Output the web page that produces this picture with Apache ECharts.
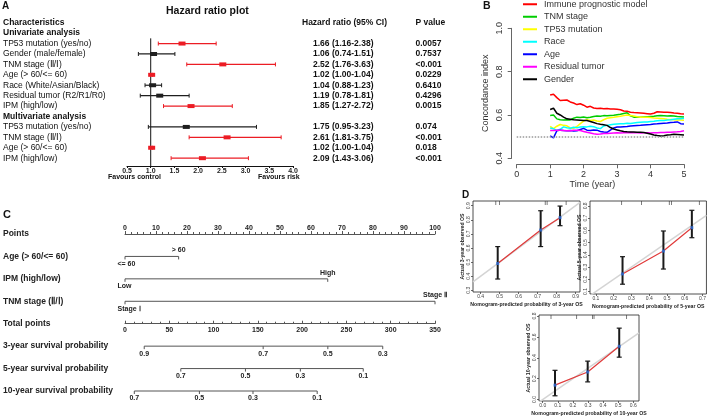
<!DOCTYPE html>
<html><head><meta charset="utf-8">
<script src="https://cdn.jsdelivr.net/npm/echarts@6/dist/echarts.min.js"></script>
<style>html,body{margin:0;padding:0;background:#fff}#c{width:709px;height:417px}</style>
</head><body><div id="c"></div>
<script>
const FONT = '"Liberation Sans", Arial, sans-serif';

// ---------- Panel A: forest plot ----------
const rowLabels = ['Characteristics','Univariate analysis','TP53 mutation (yes/no)','Gender (male/female)','TNM stage (Ⅱ/Ⅰ)','Age (> 60/<= 60)','Race (White/Asian/Black)','Residual tumor (R2/R1/R0)','IPM (high/low)','Multivariate analysis','TP53 mutation (yes/no)','TNM stage (Ⅱ/Ⅰ)','Age (> 60/<= 60)','IPM (high/low)'];
const headerRows = [0,1,9];
const hrVal = [null,null,1.66,1.06,2.52,1.02,1.04,1.19,1.85,null,1.75,2.61,1.02,2.09];
const hrLo  = [null,null,1.16,0.74,1.76,1.00,0.88,0.78,1.27,null,0.95,1.81,1.00,1.43];
const hrHi  = [null,null,2.38,1.51,3.63,1.04,1.23,1.81,2.72,null,3.23,3.75,1.04,3.06];
const pText = ['P value','','0.0057','0.7537','<0.001','0.0229','0.6410','0.4296','0.0015','','0.074','<0.001','0.018','<0.001'];

// ---------- Panel B: C-index over time ----------
const times = [1.0,1.1,1.2,1.3,1.4,1.5,1.6,1.7,1.8,1.9,2.0,2.1,2.2,2.3,2.4,2.5,2.6,2.7,2.8,2.9,3.0,3.1,3.2,3.3,3.4,3.5,3.6,3.7,3.8,3.9,4.0,4.1,4.2,4.3,4.4,4.5,4.6,4.7,4.8,4.9,5.0];
const cNames = ['Immune prognostic model','TNM stage','TP53 mutation','Race','Age','Residual tumor','Gender'];
const cColors = ['#ff0000','#00cd00','#ffff00','#00ffff','#0000ff','#ff00ff','#000000'];
const cIPM = [0.692,0.696,0.680,0.667,0.668,0.669,0.660,0.655,0.648,0.652,0.645,0.636,0.640,0.632,0.630,0.631,0.629,0.630,0.628,0.628,0.626,0.624,0.618,0.617,0.613,0.611,0.610,0.609,0.608,0.606,0.604,0.608,0.615,0.614,0.613,0.612,0.611,0.609,0.608,0.606,0.605];
const cTNM = [0.598,0.600,0.582,0.578,0.577,0.578,0.577,0.585,0.590,0.588,0.591,0.587,0.589,0.593,0.595,0.594,0.597,0.596,0.598,0.599,0.601,0.603,0.607,0.610,0.596,0.590,0.589,0.590,0.591,0.592,0.593,0.594,0.596,0.597,0.596,0.595,0.596,0.595,0.593,0.592,0.591];
const cTP53 = [0.547,0.537,0.548,0.556,0.552,0.550,0.540,0.538,0.547,0.560,0.572,0.578,0.575,0.577,0.572,0.570,0.578,0.585,0.587,0.589,0.592,0.594,0.597,0.600,0.598,0.595,0.592,0.590,0.590,0.589,0.588,0.586,0.585,0.584,0.582,0.580,0.579,0.578,0.577,0.577,0.576];
const cRace = [0.540,0.536,0.530,0.534,0.545,0.541,0.539,0.543,0.541,0.544,0.546,0.545,0.548,0.546,0.540,0.537,0.549,0.552,0.555,0.557,0.558,0.559,0.560,0.562,0.561,0.563,0.565,0.566,0.567,0.568,0.570,0.571,0.573,0.574,0.575,0.577,0.578,0.580,0.582,0.583,0.585];
const cAge = [0.504,0.494,0.527,0.530,0.528,0.527,0.528,0.526,0.527,0.533,0.538,0.530,0.528,0.531,0.530,0.524,0.521,0.520,0.530,0.540,0.544,0.545,0.546,0.547,0.549,0.550,0.551,0.552,0.554,0.555,0.556,0.558,0.559,0.561,0.562,0.563,0.565,0.566,0.568,0.560,0.558];
const cResid = [0.528,0.528,0.530,0.529,0.528,0.527,0.527,0.529,0.530,0.528,0.524,0.520,0.517,0.513,0.511,0.512,0.514,0.515,0.516,0.517,0.518,0.517,0.518,0.518,0.519,0.518,0.518,0.517,0.518,0.518,0.517,0.518,0.518,0.519,0.519,0.520,0.520,0.521,0.522,0.524,0.527];
const cGender = [0.625,0.631,0.608,0.600,0.590,0.582,0.580,0.578,0.577,0.576,0.575,0.574,0.570,0.565,0.560,0.557,0.555,0.552,0.542,0.535,0.531,0.527,0.524,0.522,0.521,0.521,0.520,0.520,0.519,0.516,0.512,0.508,0.505,0.503,0.504,0.508,0.509,0.511,0.510,0.509,0.508];
const cSeries = [cIPM,cTNM,cTP53,cRace,cAge,cResid,cGender];
const cRef = 0.5;

// ---------- Panel C: nomogram ----------
const nomoRows = ['Points','Age (> 60/<= 60)','IPM (high/low)','TNM stage (Ⅱ/Ⅰ)','Total points','3-year survival probability','5-year survival probability','10-year survival probability'];
const ageLevels = ['<= 60','> 60'];      const agePoints = [0, 17.3];
const ipmLevels = ['Low','High'];        const ipmPoints = [0, 65.4];
const tnmLevels = ['Stage Ⅰ','Stage Ⅱ']; const tnmPoints = [0, 100];
const surv3Labels = ['0.9','0.7','0.5','0.3'];  const surv3Total = [21.7,156,229,291];
const surv5Labels = ['0.7','0.5','0.3','0.1'];  const surv5Total = [63,136,198,269];
const surv10Labels = ['0.7','0.5','0.3','0.1']; const surv10Total = [10.5,84,144.5,217];

// ---------- Panel D: calibration ----------
const cal3Pred = [0.49,0.716,0.818], cal3Obs = [0.49,0.727,0.815], cal3Lo = [0.38,0.61,0.758], cal3Hi = [0.61,0.864,0.897];
const cal5Pred = [0.25,0.48,0.64],   cal5Obs = [0.244,0.431,0.622], cal5Lo = [0.16,0.284,0.54], cal5Hi = [0.385,0.595,0.764];
const cal10Pred = [0.0815,0.298,0.507], cal10Obs = [0.138,0.264,0.51], cal10Lo = [0.036,0.169,0.406], cal10Hi = [0.28,0.368,0.684];
const rug3 = [0.48,0.50,0.74,0.75,0.85];
const rug5 = [0.245,0.357,0.513,0.525,0.682];
const rug10 = [0.055,0.225,0.33,0.34,0.556];
const d1Ticks = {x:[0.4,0.5,0.6,0.7,0.8,0.9], y:[0.3,0.4,0.5,0.6,0.7,0.8,0.9]};
const d2Ticks = {x:[0.1,0.2,0.3,0.4,0.5,0.6,0.7], y:[0.1,0.2,0.3,0.4,0.5,0.6,0.7,0.8]};
const d3Ticks = {x:[0.0,0.1,0.2,0.3,0.4,0.5,0.6], y:[0.0,0.2,0.4,0.6,0.8]};

// ================= layout =================
const RED = '#ec1c24', DARK = '#1e1e1e';
const forestYMin = -0.5, forestYMax = 13.75;
const nomoTop = 234, nomoBottom = 391, nomoN = 7;
const rowPx = (nomoBottom - nomoTop) / nomoN;

function pNum(s){ return s.startsWith('<') ? parseFloat(s.slice(1)) * 0.9 : parseFloat(s); }

const forestData = [];
hrVal.forEach((v,i)=>{ if(v!=null) forestData.push([hrLo[i], hrHi[i], v, i, pNum(pText[i]) < 0.05 ? 1 : 0]); });
const firstDataRow = hrVal.findIndex(v=>v!=null);

function forestItem(params, api){
  const lo = api.value(0), hi = api.value(1), hr = api.value(2), row = api.value(3), sig = api.value(4);
  const a = api.coord([lo,row]), b = api.coord([hi,row]), c = api.coord([hr,row]);
  const col = sig ? RED : DARK, y = c[1];
  return {type:'group', children:[
    {type:'line', shape:{x1:a[0],y1:y,x2:b[0],y2:y}, style:{stroke:col,lineWidth:1.2}},
    {type:'line', shape:{x1:a[0],y1:y-2,x2:a[0],y2:y+2}, style:{stroke:col,lineWidth:1}},
    {type:'line', shape:{x1:b[0],y1:y-2,x2:b[0],y2:y+2}, style:{stroke:col,lineWidth:1}},
    {type:'rect', shape:{x:c[0]-3.5,y:y-2,width:7,height:4}, style:{fill:col}}
  ]};
}

function nomoRow(vals, labels, row, xIdx, sides, firstLeft){
  const last = vals.length - 1;
  return {type:'custom', xAxisIndex:xIdx, yAxisIndex:4, silent:true, data: vals.map(v=>[v,row]), encode:{x:0,y:1},
    renderItem:(params, api)=>{
      const i = params.dataIndex;
      const p = api.coord([api.value(0), api.value(1)]);
      const ch = [];
      if(i===0){ const q = api.coord([vals[last], row]); ch.push({type:'line', shape:{x1:p[0],y1:p[1],x2:q[0],y2:q[1]}, style:{stroke:'#555',lineWidth:1}}); }
      ch.push({type:'line', shape:{x1:p[0],y1:p[1],x2:p[0],y2:p[1]+3}, style:{stroke:'#555',lineWidth:1}});
      const left = firstLeft && i===0;
      ch.push({type:'text', x: left ? p[0]-7.5 : p[0], y: sides[i]==='top' ? p[1]-6 : p[1]+7.5,
        style:{text:labels[i], fill:'#222', font:'bold 7px '+FONT, align:left?'left':'center', verticalAlign:'middle'}});
      return {type:'group', children:ch};
    }};
}

function errItem(params, api){
  const top = api.coord([api.value(0), api.value(2)]), bot = api.coord([api.value(0), api.value(1)]);
  const x = top[0];
  return {type:'group', children:[
    {type:'line', shape:{x1:x,y1:top[1],x2:x,y2:bot[1]}, style:{stroke:'#1a1a1a',lineWidth:2}},
    {type:'line', shape:{x1:x-2.5,y1:top[1],x2:x+2.5,y2:top[1]}, style:{stroke:'#1a1a1a',lineWidth:1.2}},
    {type:'line', shape:{x1:x-2.5,y1:bot[1],x2:x+2.5,y2:bot[1]}, style:{stroke:'#1a1a1a',lineWidth:1.2}}
  ]};
}

const dRanges = [
  {x:[0.36,0.923], y:[0.288,0.933]},
  {x:[0.067,0.722], y:[0.08,0.84]},
  {x:[-0.0245,0.638], y:[-0.014,0.81]}
];
const dTicks = [d1Ticks, d2Ticks, d3Ticks];
const dNames = [['Nomogram-predicted probability of 3-year OS','Actual 3-year observed OS'],
                ['Nomogram-predicted probability of 5-year OS','Actual 5-year observed OS'],
                ['Nomogram-predicted probability of 10-year OS','Actual 10-year observed OS']];
const dCal = [[cal3Pred,cal3Obs,cal3Lo,cal3Hi,rug3],[cal5Pred,cal5Obs,cal5Lo,cal5Hi,rug5],[cal10Pred,cal10Obs,cal10Lo,cal10Hi,rug10]];

const noSplit = {show:false};
const dX = dRanges.map((r,k)=>({gridIndex:3+k, type:'value', min:r.x[0], max:r.x[1],
  axisLine:{show:false, onZero:false}, splitLine:noSplit,
  axisTick:{show:true, customValues:dTicks[k].x, length:2, lineStyle:{color:'#444',width:0.8}},
  axisLabel:{customValues:dTicks[k].x, fontSize:5, color:'#444', margin:2, formatter:v=>v.toFixed(1)},
  name:dNames[k][0], nameLocation:'middle', nameGap:10, nameTextStyle:{fontSize:5.2, fontWeight:'bold', color:'#222'}}));
const dY = dRanges.map((r,k)=>({gridIndex:3+k, type:'value', min:r.y[0], max:r.y[1],
  axisLine:{show:false, onZero:false}, splitLine:noSplit,
  axisTick:{show:true, customValues:dTicks[k].y, length:2, lineStyle:{color:'#444',width:0.8}},
  axisLabel:{customValues:dTicks[k].y, fontSize:5, color:'#444', margin:2, rotate:90, formatter:v=>v.toFixed(1)},
  name:dNames[k][1], nameLocation:'middle', nameGap:8, nameRotate:90, nameTextStyle:{fontSize:5.2, fontWeight:'bold', color:'#222'}}));

const dSeries = [];
dCal.forEach((c,k)=>{
  const xi = 4+k, yi = 5+k, r = dRanges[k];
  dSeries.push({type:'line', xAxisIndex:xi, yAxisIndex:yi, silent:true, symbol:'none', z:1,
    data:[[r.x[0],r.x[0]],[r.x[1],r.x[1]]], lineStyle:{color:'#d4d4d4',width:1.5}});
  dSeries.push({type:'line', xAxisIndex:xi, yAxisIndex:yi, silent:true, symbol:'none', z:2,
    data:c[0].map((p,j)=>[p,c[1][j]]), lineStyle:{color:'#e03a3a',width:1.2}});
  dSeries.push({type:'custom', xAxisIndex:xi, yAxisIndex:yi, silent:true, z:3,
    data:c[0].map((p,j)=>[p,c[2][j],c[3][j]]), encode:{x:0,y:[1,2]}, renderItem:errItem});
  dSeries.push({type:'scatter', xAxisIndex:xi, yAxisIndex:yi, silent:true, z:4, symbol:'rect', symbolSize:3,
    data:c[0].map((p,j)=>[p,c[1][j]]), itemStyle:{color:'#2f6fdc'}});
  dSeries.push({type:'scatter', xAxisIndex:xi, yAxisIndex:yi, silent:true, z:4, symbol:'rect', symbolSize:[0.8,4], symbolOffset:[0,2],
    data:c[4].map(p=>[p, r.y[1]]), itemStyle:{color:'#333'}});
});

const tStyle = (size, bold)=>({fontSize:size, fontWeight:bold?'bold':'normal', color:'#111', fontFamily:FONT});

const option = {
  animation:false,
  textStyle:{fontFamily:FONT},
  title:[
    {text:'A', left:2, top:1, padding:0, textStyle:tStyle(10,true)},
    {text:'Hazard ratio plot', left:166, top:6, padding:0, textStyle:tStyle(10.5,true)},
    {text:'Favours control', left:108, top:174, padding:0, textStyle:tStyle(7,true)},
    {text:'Favours risk', left:258, top:174, padding:0, textStyle:tStyle(7,true)},
    {text:'B', left:483, top:1, padding:0, textStyle:tStyle(10.5,true)},
    {text:'C', left:3, top:209, padding:0, textStyle:tStyle(11,true)},
    {text:'D', left:462, top:190, padding:0, textStyle:tStyle(10,true)}
  ],
  legend:{data:cNames, orient:'vertical', left:523, top:-2, padding:0, itemGap:0, icon:'rect', itemWidth:14, itemHeight:2,
    textStyle:{fontSize:9, color:'#333', lineHeight:12.5, padding:[0,0,0,2]}},
  grid:[
    {left:126, right:416, top:17.5, bottom:251},
    {left:516.7, right:25, top:28.3, bottom:258.7},
    {left:124, right:274, top:nomoTop, bottom:417-nomoBottom},
    {left:473, top:201, width:107, height:91, show:true, borderColor:'#222', borderWidth:0.8},
    {left:590, top:201, width:119, height:93, show:true, borderColor:'#222', borderWidth:0.8},
    {left:539, top:315, width:100, height:87, show:true, borderColor:'#222', borderWidth:0.8}
  ],
  xAxis:[
    {gridIndex:0, type:'value', min:0.5, max:4.0, interval:0.5, splitLine:noSplit,
      axisLine:{show:true, onZero:false, lineStyle:{color:'#111',width:1}}, axisTick:{show:true,length:2,lineStyle:{color:'#111'}},
      axisLabel:{fontSize:7, fontWeight:'bold', color:'#222', margin:1.5, formatter:v=>v.toFixed(1)}},
    {gridIndex:1, type:'value', min:0, max:5, interval:1, offset:6, splitLine:noSplit,
      axisLine:{show:true, onZero:false, lineStyle:{color:'#666'}}, axisTick:{show:true,length:4,lineStyle:{color:'#666'}},
      axisLabel:{fontSize:9, color:'#333', margin:6},
      name:'Time (year)', nameLocation:'middle', nameGap:16, nameTextStyle:{fontSize:9, color:'#333', padding:[0,16,0,0]}},
    {gridIndex:2, type:'value', position:'top', min:0, max:100, interval:10, splitLine:noSplit,
      axisLine:{show:true, onZero:false, lineStyle:{color:'#555'}}, axisTick:{show:true,length:3,lineStyle:{color:'#555'}},
      minorTick:{show:true, splitNumber:5, length:2, lineStyle:{color:'#555'}},
      axisLabel:{fontSize:7, fontWeight:'bold', color:'#222', margin:2.5}},
    {gridIndex:2, type:'value', position:'bottom', offset:-(nomoN-4)*rowPx, min:0, max:350, interval:50, splitLine:noSplit,
      axisLine:{show:true, onZero:false, lineStyle:{color:'#555'}}, axisTick:{show:true,inside:true,length:3,lineStyle:{color:'#555'}},
      minorTick:{show:true, splitNumber:5, length:2, lineStyle:{color:'#555'}},
      axisLabel:{fontSize:7, fontWeight:'bold', color:'#222', margin:2.5}},
    ...dX
  ],
  yAxis:[
    {gridIndex:0, type:'value', inverse:true, min:forestYMin, max:forestYMax, splitLine:noSplit, axisLine:{show:false,onZero:false}, axisTick:{show:false},
      axisLabel:{customValues:rowLabels.map((_,i)=>i), align:'left', margin:124,
        formatter:v=>{const i=Math.round(v); return (headerRows.includes(i)?'{b|':'{n|')+rowLabels[i]+'}';},
        rich:{b:{fontSize:8.5,fontWeight:'bold',color:'#111',fontFamily:FONT}, n:{fontSize:8.5,color:'#111',fontFamily:FONT}}}},
    {gridIndex:0, type:'value', position:'right', inverse:true, min:forestYMin, max:forestYMax, splitLine:noSplit, axisLine:{show:false,onZero:false}, axisTick:{show:false},
      axisLabel:{customValues:rowLabels.map((_,i)=>i), align:'left', margin:9,
        formatter:v=>{const i=Math.round(v); if(i===0) return '{h|Hazard ratio (95% CI)}'; if(hrVal[i]==null) return '';
          return '{v|'+hrVal[i].toFixed(2)+' ('+hrLo[i].toFixed(2)+'-'+hrHi[i].toFixed(2)+')}';},
        rich:{h:{fontSize:8.5,fontWeight:'bold',color:'#111',fontFamily:FONT}, v:{fontSize:8.5,fontWeight:'bold',color:'#111',fontFamily:FONT,padding:[0,0,0,11]}}}},
    {gridIndex:0, type:'value', position:'right', inverse:true, min:forestYMin, max:forestYMax, splitLine:noSplit, axisLine:{show:false,onZero:false}, axisTick:{show:false},
      axisLabel:{customValues:rowLabels.map((_,i)=>i), align:'left', margin:122.5,
        formatter:v=>{const i=Math.round(v); return pText[i] ? '{v|'+pText[i]+'}' : '';},
        rich:{v:{fontSize:8.5,fontWeight:'bold',color:'#111',fontFamily:FONT}}}},
    {gridIndex:1, type:'value', min:0.4, max:1.0, interval:0.2, offset:5, splitLine:noSplit,
      axisLine:{show:true, onZero:false, lineStyle:{color:'#666'}}, axisTick:{show:true,length:4,lineStyle:{color:'#666'}},
      axisLabel:{fontSize:9, color:'#333', margin:8, rotate:90, formatter:v=>v.toFixed(1)},
      name:'Concordance index', nameLocation:'middle', nameGap:22, nameRotate:90, nameTextStyle:{fontSize:9, color:'#333', padding:[0,0,0,0]}},
    {gridIndex:2, type:'value', inverse:true, min:0, max:nomoN, splitLine:noSplit, axisLine:{show:false,onZero:false}, axisTick:{show:false},
      axisLabel:{customValues:nomoRows.map((_,i)=>i), align:'left', margin:122,
        formatter:v=>'{b|'+nomoRows[Math.round(v)]+'}',
        rich:{b:{fontSize:8.5,fontWeight:'bold',color:'#222',fontFamily:FONT}}}},
    ...dY
  ],
  series:[
    // Panel A
    {type:'line', xAxisIndex:0, yAxisIndex:0, silent:true, symbol:'none', z:1,
      data:[[1, firstDataRow-0.5],[1, forestYMax]], lineStyle:{color:'#111',width:1}},
    {type:'custom', xAxisIndex:0, yAxisIndex:0, silent:true, z:2, data:forestData, encode:{x:[0,1,2], y:3}, renderItem:forestItem},
    // Panel B
    ...cNames.map((n,i)=>({type:'line', name:n, xAxisIndex:1, yAxisIndex:3, symbol:'none', showSymbol:false, silent:true,
      data:times.map((t,j)=>[t, cSeries[i][j]]), lineStyle:{width:1.5, color:cColors[i]}, itemStyle:{color:cColors[i]},
      markLine: i===0 ? {silent:true, symbol:'none', label:{show:false}, data:[{yAxis:cRef}], lineStyle:{type:'dotted', color:'#999', width:1.5}} : undefined})),
    // Panel C
    nomoRow(agePoints, ageLevels, 1, 2, ['bottom','top'], true),
    nomoRow(ipmPoints, ipmLevels, 2, 2, ['bottom','top'], true),
    nomoRow(tnmPoints, tnmLevels, 3, 2, ['bottom','top'], true),
    nomoRow(surv3Total, surv3Labels, 5, 3, ['bottom','bottom','bottom','bottom'], false),
    nomoRow(surv5Total, surv5Labels, 6, 3, ['bottom','bottom','bottom','bottom'], false),
    nomoRow(surv10Total, surv10Labels, 7, 3, ['bottom','bottom','bottom','bottom'], false),
    // Panel D
    ...dSeries
  ]
};
const chart = echarts.init(document.getElementById('c'), null, {renderer:'canvas'});
chart.setOption(option);
</script></body></html>
